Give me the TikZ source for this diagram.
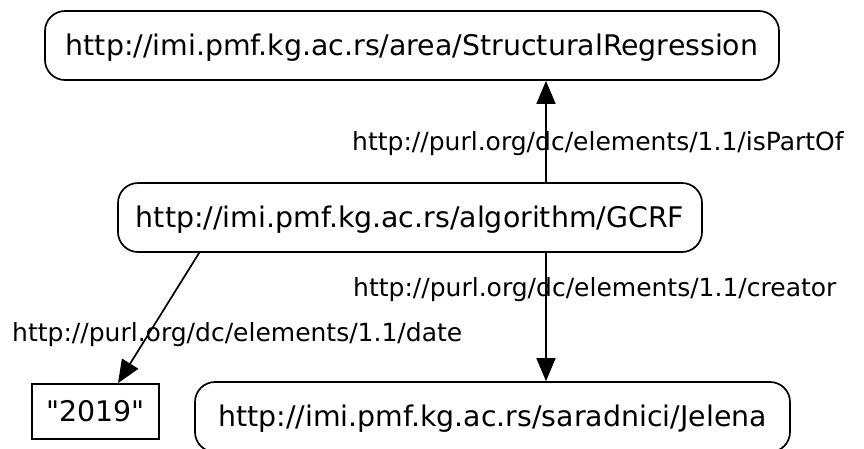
\documentclass[tikz,border=0pt]{standalone}
\usepackage{fontspec}
% a family without TeX ligatures, so that " stays a straight quote
\newfontfamily\dvsans{DejaVu Sans}
\usetikzlibrary{arrows.meta,calc}
\tikzset{
  resbox/.style={draw=black, line width=1.7pt, rounded corners=20pt, inner sep=0pt,
    font=\dvsans\fontsize{28.4}{34}\selectfont, text height=21pt, text depth=2pt},
  litbox/.style={draw=black, line width=1.7pt, inner sep=0pt,
    font=\dvsans\fontsize{28.4}{34}\selectfont, text height=22pt, text depth=1.6pt},
  edgelabel/.style={anchor=base west, inner sep=0pt, font=\dvsans\fontsize{25}{30}\selectfont},
  edge/.style={draw=black, line width=1.7pt, -{Triangle[length=23pt,width=19pt]}}
}
\begin{document}
\begin{tikzpicture}[x=1pt, y=-1pt]
  \useasboundingbox (0,0) rectangle (864,448);
  % resource and literal nodes
  \node[resbox, minimum width=734pt, minimum height=69pt] (area) at (412,45.5)
    {http://imi.pmf.kg.ac.rs/area/StructuralRegression};
  \node[resbox, minimum width=584pt, minimum height=69pt] (gcrf) at (410,217.5)
    {http://imi.pmf.kg.ac.rs/algorithm/GCRF};
  \node[resbox, minimum width=595pt, minimum height=70pt] (jelena) at (492.5,417)
    {http://imi.pmf.kg.ac.rs/saradnici/Jelena};
  \node[litbox, minimum width=127pt, minimum height=55pt] (year) at (95.5,411.5)
    {"2019"};
  % column of the vertical edges
  \coordinate (col) at (546,0);
  % edges
  \draw[edge] (gcrf.north -| col) -- (area.south -| col);
  \draw[edge] (gcrf.south -| col) -- (jelena.north -| col);
  \draw[edge] ($(gcrf.south west)+(82pt,0)$) -- ($(year.north)+(22.5pt,0)$);
  % edge labels
  \node[edgelabel] (lpart) at (352,150.5) {http://purl.org/dc/elements/1.1/isPartOf};
  \node[edgelabel] (lcreator) at (353,296) {http://purl.org/dc/elements/1.1/creator};
  \node[edgelabel] (ldate) at (12,341.5) {http://purl.org/dc/elements/1.1/date};
\end{tikzpicture}
\end{document}
